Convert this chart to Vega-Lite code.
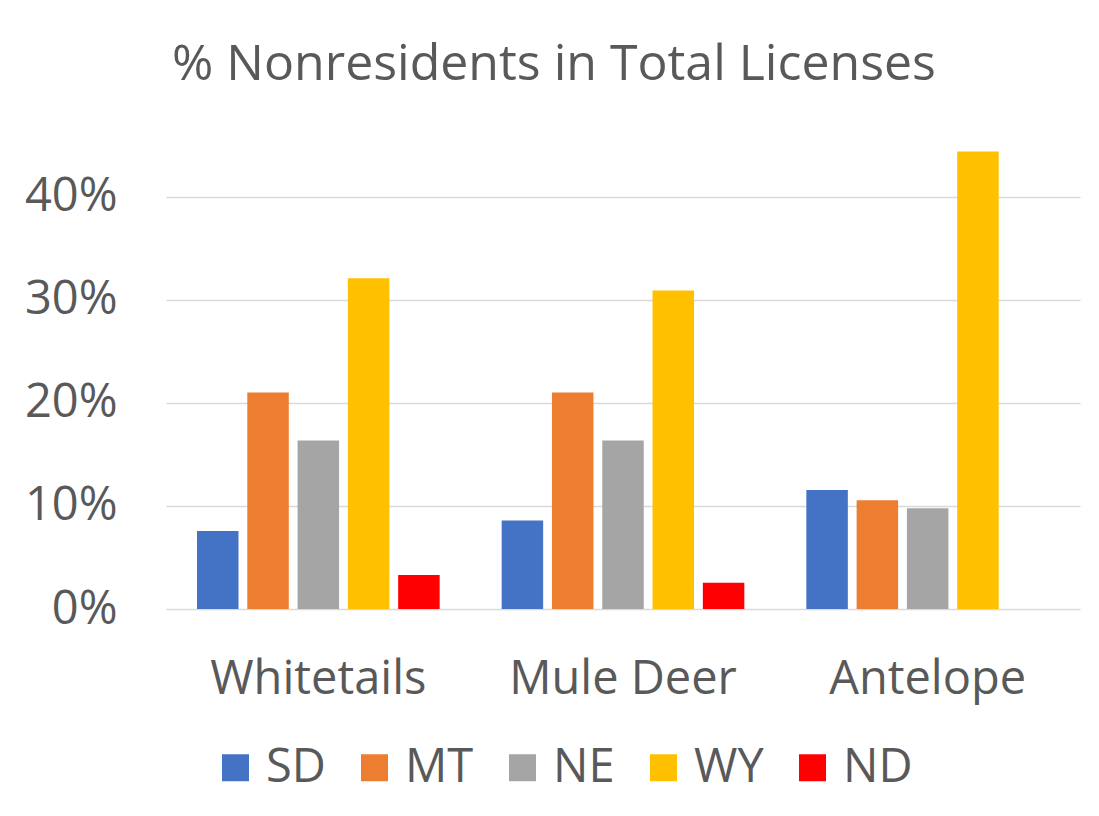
{
  "$schema": "https://vega.github.io/schema/vega-lite/v6.json",
  "width": 914,
  "height": 474,
  "autosize": {"type": "none"},
  "padding": {"left": 166, "top": 135, "right": 19, "bottom": 207},
  "background": "#ffffff",
  "title": {
    "text": "% Nonresidents in Total Licenses",
    "anchor": "start",
    "frame": "group",
    "dx": 6,
    "offset": 5,
    "baseline": "alphabetic",
    "font": "Open Sans",
    "fontSize": 50,
    "fontWeight": "normal",
    "color": "#595959",
    "limit": 0
  },
  "data": {
    "values": [
      {"species": "Whitetails", "state": "SD", "pct": 0.0757},
      {"species": "Whitetails", "state": "MT", "pct": 0.210},
      {"species": "Whitetails", "state": "NE", "pct": 0.1635},
      {"species": "Whitetails", "state": "WY", "pct": 0.321},
      {"species": "Whitetails", "state": "ND", "pct": 0.033},
      {"species": "Mule Deer", "state": "SD", "pct": 0.086},
      {"species": "Mule Deer", "state": "MT", "pct": 0.210},
      {"species": "Mule Deer", "state": "NE", "pct": 0.1635},
      {"species": "Mule Deer", "state": "WY", "pct": 0.309},
      {"species": "Mule Deer", "state": "ND", "pct": 0.0255},
      {"species": "Antelope", "state": "SD", "pct": 0.1155},
      {"species": "Antelope", "state": "MT", "pct": 0.1055},
      {"species": "Antelope", "state": "NE", "pct": 0.0978},
      {"species": "Antelope", "state": "WY", "pct": 0.444}
    ]
  },
  "mark": {"type": "bar", "strokeWidth": 0},
  "encoding": {
    "x": {
      "field": "species",
      "type": "nominal",
      "sort": ["Whitetails", "Mule Deer", "Antelope"],
      "scale": {"paddingInner": 0, "paddingOuter": 0},
      "axis": {
        "title": null,
        "labelAngle": 0,
        "ticks": false,
        "tickSize": 0,
        "domain": false,
        "labelPadding": 47,
        "labelFont": "Open Sans",
        "labelFontSize": 47,
        "labelColor": "#595959",
        "labelBaseline": "top",
        "labelLimit": 0
      }
    },
    "xOffset": {
      "field": "state",
      "type": "nominal",
      "sort": ["SD", "MT", "NE", "WY", "ND"],
      "scale": {"domain": ["SD", "MT", "NE", "WY", "ND"], "paddingInner": 0.175, "paddingOuter": 0.6165}
    },
    "y": {
      "field": "pct",
      "type": "quantitative",
      "scale": {"domain": [0, 0.46], "nice": false},
      "axis": {
        "title": null,
        "values": [0, 0.1, 0.2, 0.3, 0.4],
        "format": ".0%",
        "ticks": false,
        "tickSize": 0,
        "domain": false,
        "labelPadding": 49,
        "labelFont": "Open Sans",
        "labelFontSize": 47,
        "labelColor": "#595959",
        "gridColor": "#d9d9d9",
        "gridWidth": 1.5
      }
    },
    "color": {
      "field": "state",
      "type": "nominal",
      "sort": ["SD", "MT", "NE", "WY", "ND"],
      "scale": {
        "domain": ["SD", "MT", "NE", "WY", "ND"],
        "range": ["#4472C4", "#ED7D31", "#A5A5A5", "#FFC000", "#FF0000"]
      },
      "legend": {
        "title": null,
        "orient": "none",
        "direction": "horizontal",
        "legendX": 46,
        "legendY": 609,
        "padding": 0,
        "symbolType": "square",
        "symbolSize": 729,
        "symbolStrokeWidth": 0,
        "labelOffset": 7,
        "columnPadding": 25,
        "labelFont": "Open Sans",
        "labelFontSize": 47,
        "labelColor": "#595959",
        "labelBaseline": "middle",
        "labelLimit": 0
      }
    }
  },
  "config": {
    "view": {"stroke": null}
  }
}
